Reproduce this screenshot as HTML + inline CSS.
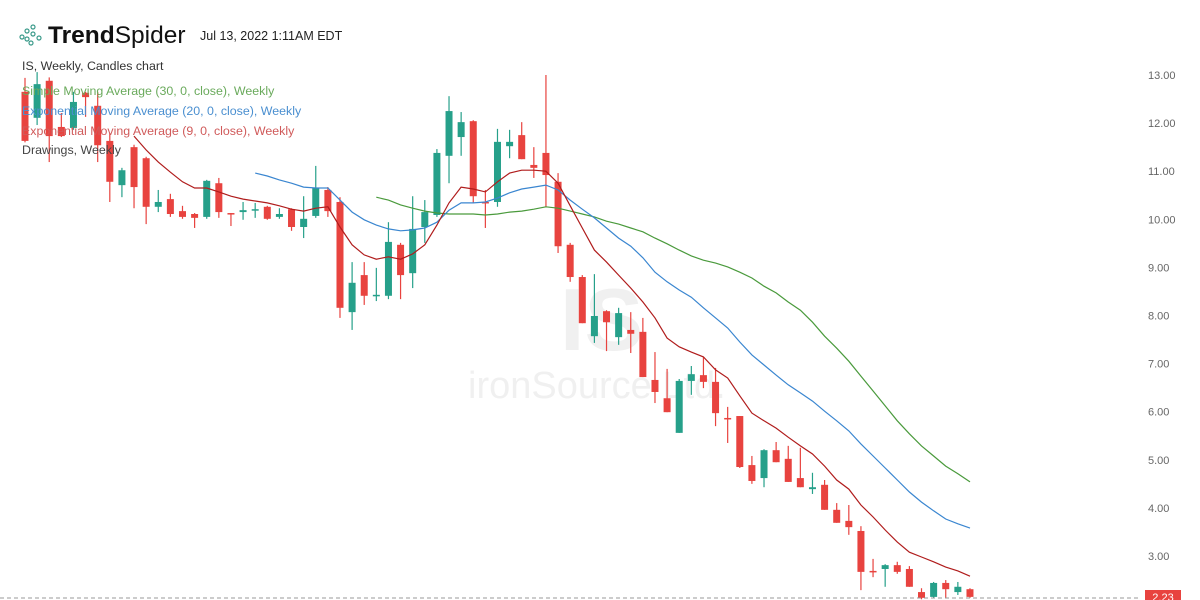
<!DOCTYPE html>
<html><head><meta charset="utf-8"><style>
body{margin:0;background:#fff;font-family:"Liberation Sans",sans-serif;}
#wrap{position:relative;width:1200px;height:600px;overflow:hidden;}
</style></head><body>
<div id="wrap">
<svg id="chart" width="1200" height="600" xmlns="http://www.w3.org/2000/svg">
<g fill="none" stroke="#3a9a8a" stroke-width="1.2">
<circle cx="22" cy="37" r="2"/><circle cx="27" cy="31" r="2"/><circle cx="33" cy="27" r="2"/><circle cx="27" cy="39" r="2"/><circle cx="33" cy="34" r="2"/><circle cx="39" cy="38" r="2"/><circle cx="31" cy="43" r="2"/>
</g>
<text x="48" y="43" font-size="24.5" fill="#111"><tspan font-weight="bold">Trend</tspan>Spider</text>
<text x="200" y="40" font-size="12.5" fill="#222">Jul 13, 2022 1:11AM EDT</text>
<text x="22" y="70" font-size="12.4" fill="#333">IS, Weekly, Candles chart</text>
<text x="560" y="350" font-size="88" font-weight="bold" fill="#f0f0f0">IS</text>
<text x="468" y="398" font-size="38" fill="#f0f0f0">ironSource Ltd.</text>
<g id="axis"></g>
<g id="candles"></g>
<g id="mas"></g>
<line x1="0" y1="598" x2="1140" y2="598" stroke="#999" stroke-dasharray="4,3"/>
<rect x="1145" y="590" width="36" height="12" fill="#e8433f"/>
<text x="1163" y="601" font-size="11" fill="#fff" text-anchor="middle">2.23</text>
<g font-size="12.4">
<text x="22" y="95" fill="#6aaa5c">Simple Moving Average (30, 0, close), Weekly</text>
<text x="22" y="115" fill="#4a8fd0">Exponential Moving Average (20, 0, close), Weekly</text>
<text x="22" y="135" fill="#d05a5a">Exponential Moving Average (9, 0, close), Weekly</text>
<text x="22" y="154" fill="#444">Drawings, Weekly</text>
</g>
</svg>
</div>
<script>
const opens=[12.65,12.11,12.88,11.92,11.90,12.63,12.36,11.63,10.71,11.50,11.27,10.26,10.42,10.17,10.11,10.05,10.75,10.13,10.15,10.19,10.26,10.05,10.21,9.84,10.07,10.61,10.36,8.07,8.84,8.41,8.41,9.47,8.88,9.84,10.09,11.32,11.71,12.04,10.36,10.36,11.52,11.75,11.13,11.38,10.78,9.47,8.80,7.57,8.09,7.55,7.70,7.66,6.66,6.28,5.56,6.64,6.76,6.62,5.87,5.91,4.89,4.62,5.20,5.02,4.62,4.39,4.48,3.96,3.73,3.52,2.69,2.73,2.81,2.73,2.25,2.15,2.44,2.25,2.31];
const highs=[12.94,13.06,12.95,12.21,12.65,12.65,12.65,11.79,11.07,11.55,11.30,10.61,10.53,10.28,10.13,10.82,10.86,10.13,10.36,10.34,10.28,10.23,10.23,10.48,11.11,10.67,10.46,9.11,9.11,8.99,9.94,9.51,10.48,10.40,11.46,12.56,12.23,12.06,10.61,11.88,11.86,12.02,11.50,13.00,10.96,9.51,8.84,8.86,8.11,8.16,8.07,7.95,7.24,6.89,6.68,6.95,7.14,6.91,6.10,5.91,5.08,5.22,5.37,5.29,5.25,4.73,4.58,4.10,4.06,3.62,2.94,2.83,2.88,2.79,2.33,2.46,2.50,2.46,2.33];
const lows=[11.60,11.96,11.19,11.71,11.86,12.13,11.19,10.36,10.46,10.23,9.90,10.15,10.05,10.01,9.82,10.01,10.03,9.86,9.99,10.03,9.99,10.01,9.76,9.61,10.03,10.05,7.95,7.70,8.22,8.30,8.34,8.34,8.57,9.51,10.05,10.75,11.32,10.34,9.82,10.26,11.27,11.25,10.86,10.26,9.30,8.70,7.84,7.43,7.26,7.39,7.22,6.72,6.18,5.99,5.56,6.35,6.49,5.70,5.35,4.83,4.50,4.43,4.95,4.54,4.43,4.29,3.96,3.69,3.44,2.29,2.56,2.36,2.63,2.36,2.10,2.13,2.13,2.19,2.13];
const closes=[11.63,12.81,11.73,11.73,12.44,12.54,11.54,10.78,11.02,10.67,10.26,10.36,10.11,10.05,10.03,10.80,10.15,10.11,10.19,10.21,10.01,10.11,9.84,10.01,10.65,10.17,8.16,8.68,8.41,8.43,9.53,8.84,9.80,10.15,11.38,12.25,12.02,10.48,10.34,11.61,11.61,11.25,11.07,10.92,9.44,8.80,7.84,7.99,7.86,8.05,7.62,6.72,6.41,5.99,6.64,6.78,6.62,5.97,5.86,4.85,4.56,5.20,4.95,4.54,4.43,4.43,3.96,3.69,3.60,2.67,2.67,2.81,2.67,2.36,2.13,2.44,2.31,2.36,2.15];
const ema9Start=9;
const ema9=[11.73,11.44,11.19,10.98,10.78,10.65,10.65,10.57,10.48,10.42,10.38,10.34,10.28,10.21,10.17,10.23,10.26,9.84,9.47,9.26,9.17,9.22,9.17,9.28,9.47,9.88,10.34,10.67,10.63,10.57,10.78,10.96,11.02,11.02,11.00,10.75,10.28,9.82,9.36,9.11,8.84,8.57,8.28,7.95,7.53,7.35,7.24,7.14,6.87,6.70,6.33,5.97,5.81,5.66,5.47,5.29,5.12,4.87,4.58,4.39,4.06,3.81,3.54,3.29,3.08,2.98,2.88,2.77,2.69,2.58];
const ema20Start=19;
const ema20=[10.96,10.90,10.82,10.75,10.67,10.65,10.65,10.40,10.15,9.99,9.88,9.80,9.76,9.78,9.82,9.94,10.19,10.34,10.34,10.36,10.44,10.55,10.63,10.67,10.71,10.61,10.40,10.21,10.03,9.82,9.61,9.44,9.20,8.90,8.70,8.53,8.38,8.16,7.95,7.74,7.45,7.18,6.97,6.76,6.56,6.39,6.22,6.01,5.81,5.60,5.33,5.08,4.83,4.58,4.33,4.12,3.94,3.77,3.67,3.58];
const sma30Start=29;
const sma30=[10.46,10.40,10.30,10.23,10.17,10.13,10.11,10.11,10.11,10.09,10.11,10.15,10.17,10.21,10.26,10.23,10.17,10.11,10.05,9.96,9.90,9.82,9.74,9.61,9.49,9.36,9.24,9.15,9.09,9.01,8.90,8.78,8.61,8.47,8.28,8.11,7.86,7.57,7.32,7.05,6.74,6.43,6.12,5.81,5.54,5.29,5.08,4.87,4.71,4.54];
const yTicks=[13,12,11,10,9,8,7,6,5,4,3];

const NS='http://www.w3.org/2000/svg';
const yScale=p=>75+(13-p)*48.1;
const xScale=i=>25+i*12.115;
function mk(tag,attrs,parent){const e=document.createElementNS(NS,tag);for(const k in attrs)e.setAttribute(k,attrs[k]);parent.appendChild(e);return e;}
const axis=document.getElementById('axis');
yTicks.forEach(t=>{const e=mk('text',{x:1148,y:yScale(t)+4,'font-size':11,fill:'#666'},axis);e.textContent=t.toFixed(2);

});
const cg=document.getElementById('candles');
opens.forEach((o,i)=>{const c=closes[i],up=c>=o,col=up?'#26a08a':'#e8433f',x=xScale(i);
const w=mk('line',{x1:x,x2:x,y1:yScale(highs[i]),y2:yScale(lows[i]),stroke:col,'stroke-width':1.2},cg);


const top=yScale(Math.max(o,c)),bot=yScale(Math.min(o,c));
const r=mk('rect',{x:x-3.5,y:top,width:7,height:Math.max(1.5,bot-top),fill:col},cg);

});
const mg=document.getElementById('mas');
function line(arr,start,col,name){const pts=arr.map((v,j)=>xScale(start+j).toFixed(1)+','+yScale(v).toFixed(1)).join(' ');
const p=mk('polyline',{points:pts,fill:'none',stroke:col,'stroke-width':1.2},mg);

}
line(sma30,sma30Start,'#4a9a3c','sma30-line');
line(ema20,ema20Start,'#3a86d0','ema20-line');
line(ema9,ema9Start,'#b01c1c','ema9-line');
</script>
</body></html>
